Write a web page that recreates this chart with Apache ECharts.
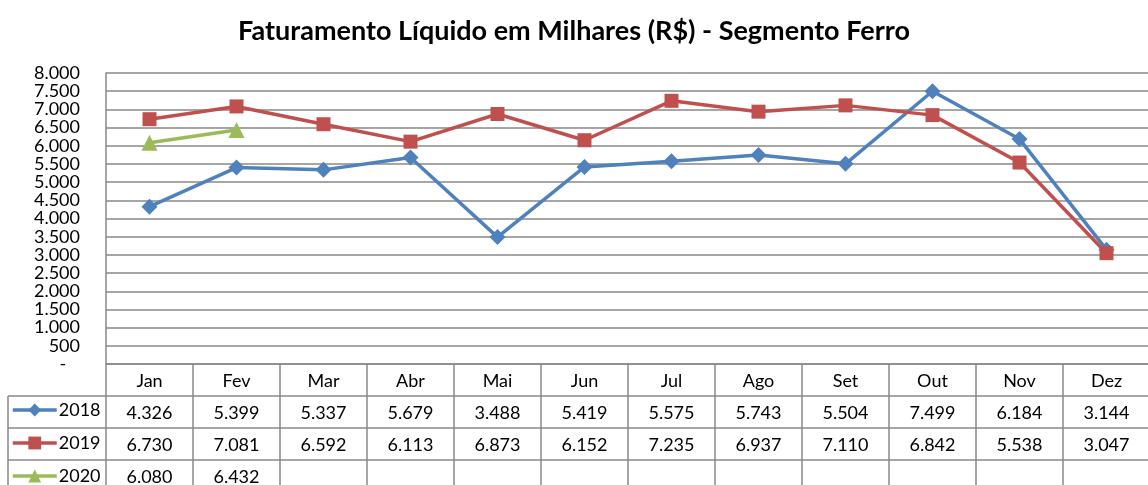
<!DOCTYPE html>
<html>
<head>
<meta charset="utf-8">
<script src="https://cdn.jsdelivr.net/npm/echarts@6/dist/echarts.min.js"></script>
<style>
html,body{margin:0;padding:0;background:#fff;}
#main{width:1148px;height:485px;}
</style>
</head>
<body>
<div id="main"></div>
<script>
const titleText = 'Faturamento Líquido em Milhares (R$) - Segmento Ferro';
const months = ['Jan','Fev','Mar','Abr','Mai','Jun','Jul','Ago','Set','Out','Nov','Dez'];
const seriesNames = ['2018','2019','2020'];
const values2018 = [4326,5399,5337,5679,3488,5419,5575,5743,5504,7499,6184,3144];
const values2019 = [6730,7081,6592,6113,6873,6152,7235,6937,7110,6842,5538,3047];
const values2020 = [6080,6432];
const yTicks = {min:0, max:8000, interval:500};

const FONT = 'Lato';
const FS = 18;
const colors = ['#4F81BD','#C0504D','#9BBB59'];
const symbols = ['diamond','rect','triangle'];
const allValues = [values2018, values2019, values2020];

function fmt(v){
  if (v === 0) return '-   ';
  return String(v).replace(/\B(?=(\d{3})+(?!\d))/g, '.');
}
function rowLabels(arr){
  return months.map((m,i)=> arr[i] == null ? '' : fmt(arr[i]));
}

const GRID_LEFT = 106, GRID_TOP = 73, GRID_W = 1044, GRID_H = 291;
const ROW_H = 32;
const lineColor = '#898989';

const xAxes = [{
  type:'category', data: months, gridIndex:0, position:'bottom',
  boundaryGap:true,
  axisLine:{show:true, lineStyle:{color:lineColor, width:1.5}},
  axisTick:{show:true, alignWithLabel:false, length: ROW_H*4, lineStyle:{color:lineColor, width:1.5}},
  axisLabel:{color:'#000', fontFamily:FONT, fontSize:FS, margin:8},
  splitLine:{show:false}
}];
allValues.forEach((arr, k)=>{
  xAxes.push({
    type:'category', data: rowLabels(arr), gridIndex:0, position:'bottom',
    offset: ROW_H*(k+1), boundaryGap:true,
    axisLine:{show:false}, axisTick:{show:false},
    axisLabel:{color:'#000', fontFamily:FONT, fontSize:FS, margin:8, interval:0}
  });
});

const graphicEls = [];
for (let k=1;k<=3;k++){
  graphicEls.push({type:'line', shape:{x1:8, y1:GRID_TOP+GRID_H+ROW_H*k, x2:1150, y2:GRID_TOP+GRID_H+ROW_H*k},
    style:{stroke:lineColor, lineWidth:1.5}, silent:true});
}
graphicEls.push({type:'line', shape:{x1:8, y1:GRID_TOP+GRID_H+ROW_H, x2:8, y2:500},
  style:{stroke:lineColor, lineWidth:1.5}, silent:true});

const option = {
  backgroundColor:'#fff',
  animation:false,
  title:{text:titleText, left:'center', top:13,
    textStyle:{fontFamily:FONT, fontSize:27, fontWeight:'bold', color:'#000'}},
  legend:{
    orient:'vertical', left:11, top:401, padding:0, itemWidth:44, itemHeight:16, itemGap:15,
    height: 120,
    data: seriesNames,
    lineStyle:{width:3.5},
    textStyle:{fontFamily:FONT, fontSize:FS, color:'#000', padding:[0,0,0,-3]}
  },
  grid:{left:GRID_LEFT, top:GRID_TOP, width:GRID_W, height:GRID_H, containLabel:false, outerBoundsMode:'none'},
  xAxis: xAxes,
  yAxis:{
    type:'value', min:yTicks.min, max:yTicks.max, interval:yTicks.interval,
    axisLine:{show:true, lineStyle:{color:lineColor, width:1.5}},
    axisTick:{show:false},
    axisLabel:{color:'#000', fontFamily:FONT, fontSize:FS, margin:26, formatter:fmt},
    splitLine:{show:true, lineStyle:{color:lineColor, width:1.5}}
  },
  graphic: graphicEls,
  series: allValues.map((arr,k)=>({
    name: seriesNames[k], type:'line', data: arr, xAxisIndex:0,
    symbol: symbols[k], symbolSize: k===1 ? 14 : 16, showAllSymbol:true,
    lineStyle:{color:colors[k], width:3.5},
    itemStyle:{color:colors[k]},
    emphasis:{disabled:true}
  }))
};
const chart = echarts.init(document.getElementById('main'), null, {renderer:'canvas'});
chart.setOption(option);
</script>
</body>
</html>
